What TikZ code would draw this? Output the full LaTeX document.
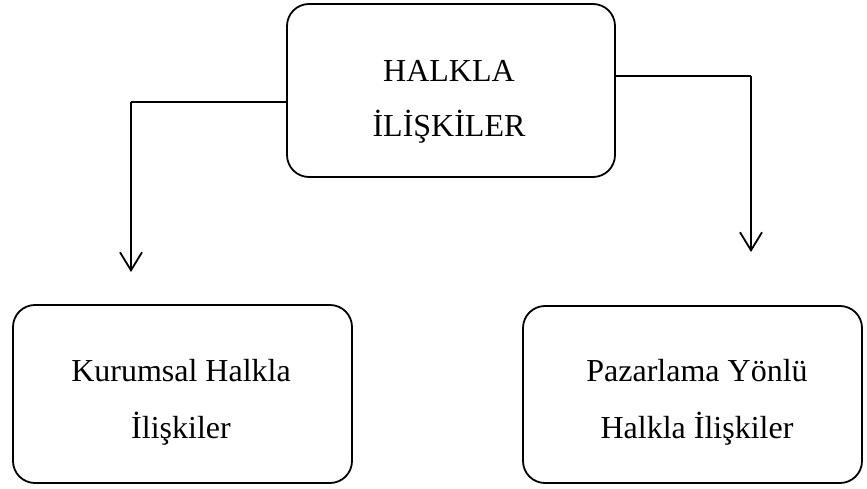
\documentclass[tikz,border=0pt]{standalone}
\usepackage{fontspec}
\setmainfont{Liberation Serif}
\usetikzlibrary{arrows.meta}
\begin{document}
\begin{tikzpicture}[x=1pt,y=-1pt,
  box/.style={draw,line width=1.8pt,rounded corners=22pt,inner sep=0pt},
  lbl/.style={align=center,inner sep=0pt,font=\fontsize{32}{55}\selectfont},
  conn/.style={line width=1.8pt},
  tip/.style={-{Straight Barb[length=18pt,width=22pt,line width=1.8pt]}}]
\path[use as bounding box] (0,0) rectangle (867,489);
\node[box,minimum width=328pt,minimum height=173pt] (top) at (451,90.5) {};
\node[box,minimum width=339pt,minimum height=178pt] (left) at (182.5,394) {};
\node[box,minimum width=339pt,minimum height=177pt] (right) at (692.5,394.5) {};
\node[lbl] (ttop) at (449,102) {HALKLA\\İLİŞKİLER};
\node[lbl,font=\fontsize{32}{57}\selectfont] (tleft) at (181,402) {Kurumsal Halkla\\İlişkiler};
\node[lbl,font=\fontsize{32}{57}\selectfont] (tright) at (697,402) {Pazarlama Yönlü\\Halkla İlişkiler};
\coordinate (lc) at (131,102);
\coordinate (la) at (131,272);
\coordinate (rc) at (751,76);
\coordinate (ra) at (751,252);
\draw[conn] (top.west |- lc) -- (lc);
\draw[conn,tip] (lc) -- (la);
\draw[line width=1.2pt] (top.east |- rc) -- (rc);
\draw[conn,tip] (rc) -- (ra);
\end{tikzpicture}
\end{document}
